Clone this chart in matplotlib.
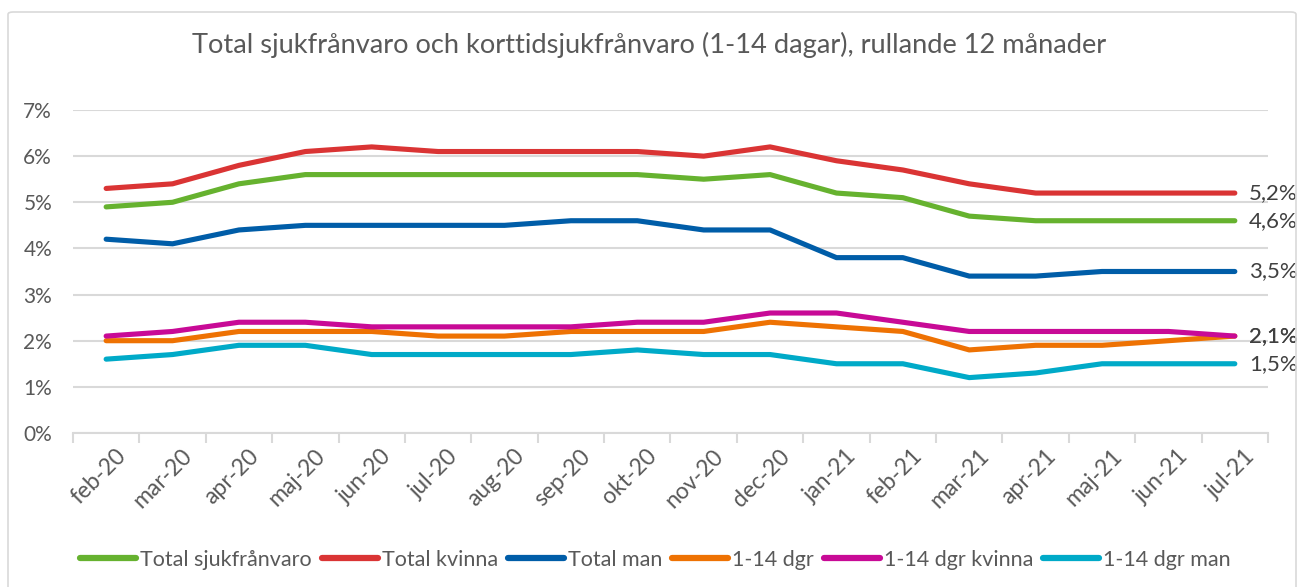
import numpy as np
import matplotlib
matplotlib.use('Agg')
import matplotlib.pyplot as plt
import matplotlib.transforms as mtransforms
from matplotlib.patches import FancyBboxPatch

plt.rcParams['font.family'] = ['Lato', 'DejaVu Sans']

months = ['feb-20', 'mar-20', 'apr-20', 'maj-20', 'jun-20', 'jul-20', 'aug-20', 'sep-20', 'okt-20',
          'nov-20', 'dec-20', 'jan-21', 'feb-21', 'mar-21', 'apr-21', 'maj-21', 'jun-21', 'jul-21']

total = [4.9, 5.0, 5.4, 5.6, 5.6, 5.6, 5.6, 5.6, 5.6, 5.5, 5.6, 5.2, 5.1, 4.7, 4.6, 4.6, 4.6, 4.6]
total_kvinna = [5.3, 5.4, 5.8, 6.1, 6.2, 6.1, 6.1, 6.1, 6.1, 6.0, 6.2, 5.9, 5.7, 5.4, 5.2, 5.2, 5.2, 5.2]
total_man = [4.2, 4.1, 4.4, 4.5, 4.5, 4.5, 4.5, 4.6, 4.6, 4.4, 4.4, 3.8, 3.8, 3.4, 3.4, 3.5, 3.5, 3.5]
kort = [2.0, 2.0, 2.2, 2.2, 2.2, 2.1, 2.1, 2.2, 2.2, 2.2, 2.4, 2.3, 2.2, 1.8, 1.9, 1.9, 2.0, 2.1]
kort_kvinna = [2.1, 2.2, 2.4, 2.4, 2.3, 2.3, 2.3, 2.3, 2.4, 2.4, 2.6, 2.6, 2.4, 2.2, 2.2, 2.2, 2.2, 2.1]
kort_man = [1.6, 1.7, 1.9, 1.9, 1.7, 1.7, 1.7, 1.7, 1.8, 1.7, 1.7, 1.5, 1.5, 1.2, 1.3, 1.5, 1.5, 1.5]

series = [
    ('Total sjukfrånvaro', total, '#66B22F'),
    ('Total kvinna', total_kvinna, '#DA3434'),
    ('Total man', total_man, '#005DA8'),
    ('1-14 dgr', kort, '#EE7203'),
    ('1-14 dgr kvinna', kort_kvinna, '#C80A96'),
    ('1-14 dgr man', kort_man, '#00AAC8'),
]

txt = '#595959'
grid = '#D9D9D9'

fig = plt.figure(figsize=(12.98, 5.87), dpi=100)
ax = fig.add_axes([0.0562, 0.2624, 0.9207, 0.5502])

# chart area border
fig.patches.append(FancyBboxPatch((8 / 1298, -0.05), 1288 / 1298, 1 - 12 / 587 + 0.05,
                                  boxstyle='round,pad=0,rounding_size=0.004',
                                  transform=fig.transFigure, fill=False,
                                  edgecolor=grid, linewidth=1.2, zorder=0))

x = np.arange(len(months))
for name, vals, col in series:
    ax.plot(x, vals, color=col, lw=3.7, solid_capstyle='round', solid_joinstyle='round', label=name)

# end labels (2,1% is drawn twice, as in the original)
for name, vals, col in series:
    ax.annotate(f'{vals[-1]:.1f}%'.replace('.', ','), (x[-1], vals[-1]),
                xytext=(10, 0), textcoords='offset points', va='center', ha='left',
                fontsize=16, color='#404040', annotation_clip=False)

ax.set_xlim(-0.5, len(months) - 0.5)
ax.set_ylim(0, 7)
ax.set_yticks(np.arange(0, 8))
ax.set_yticklabels([f'{v}%' for v in range(8)], fontsize=15, color=txt)
ax.yaxis.grid(True, color=grid, lw=1.5)
ax.set_axisbelow(True)
ax.tick_params(axis='y', length=0, pad=15)

ax.set_xticks(x)
ax.set_xticklabels(months, rotation=45, ha='right', va='top', rotation_mode='anchor',
                   fontsize=16.5, color=txt)
ax.set_xticks(np.arange(-0.5, len(months)), minor=True)
ax.tick_params(axis='x', which='major', length=0, pad=9)
ax.tick_params(axis='x', which='minor', length=7, width=1.5, color=grid)
offset = mtransforms.ScaledTranslation(9 / 100, 0, fig.dpi_scale_trans)
for lab in ax.get_xticklabels():
    lab.set_transform(lab.get_transform() + offset)

for s in ['top', 'right', 'left']:
    ax.spines[s].set_visible(False)
ax.spines['bottom'].set_color(grid)
ax.spines['bottom'].set_linewidth(1.5)

fig.text(0.5, 1 - 45 / 587, 'Total sjukfrånvaro och korttidsjukfrånvaro (1-14 dagar), rullande 12 månader',
         ha='center', va='center', fontsize=19.6, color=txt)

leg = fig.legend(loc='center', bbox_to_anchor=(0.505, 1 - 560 / 587), ncol=6, frameon=False,
                 fontsize=15.5, handlelength=2.6, handletextpad=0.2, columnspacing=0.45,
                 labelcolor=txt)
for h in leg.legend_handles:
    h.set_linewidth(4.5)

fig.savefig('out.png', dpi=100)
